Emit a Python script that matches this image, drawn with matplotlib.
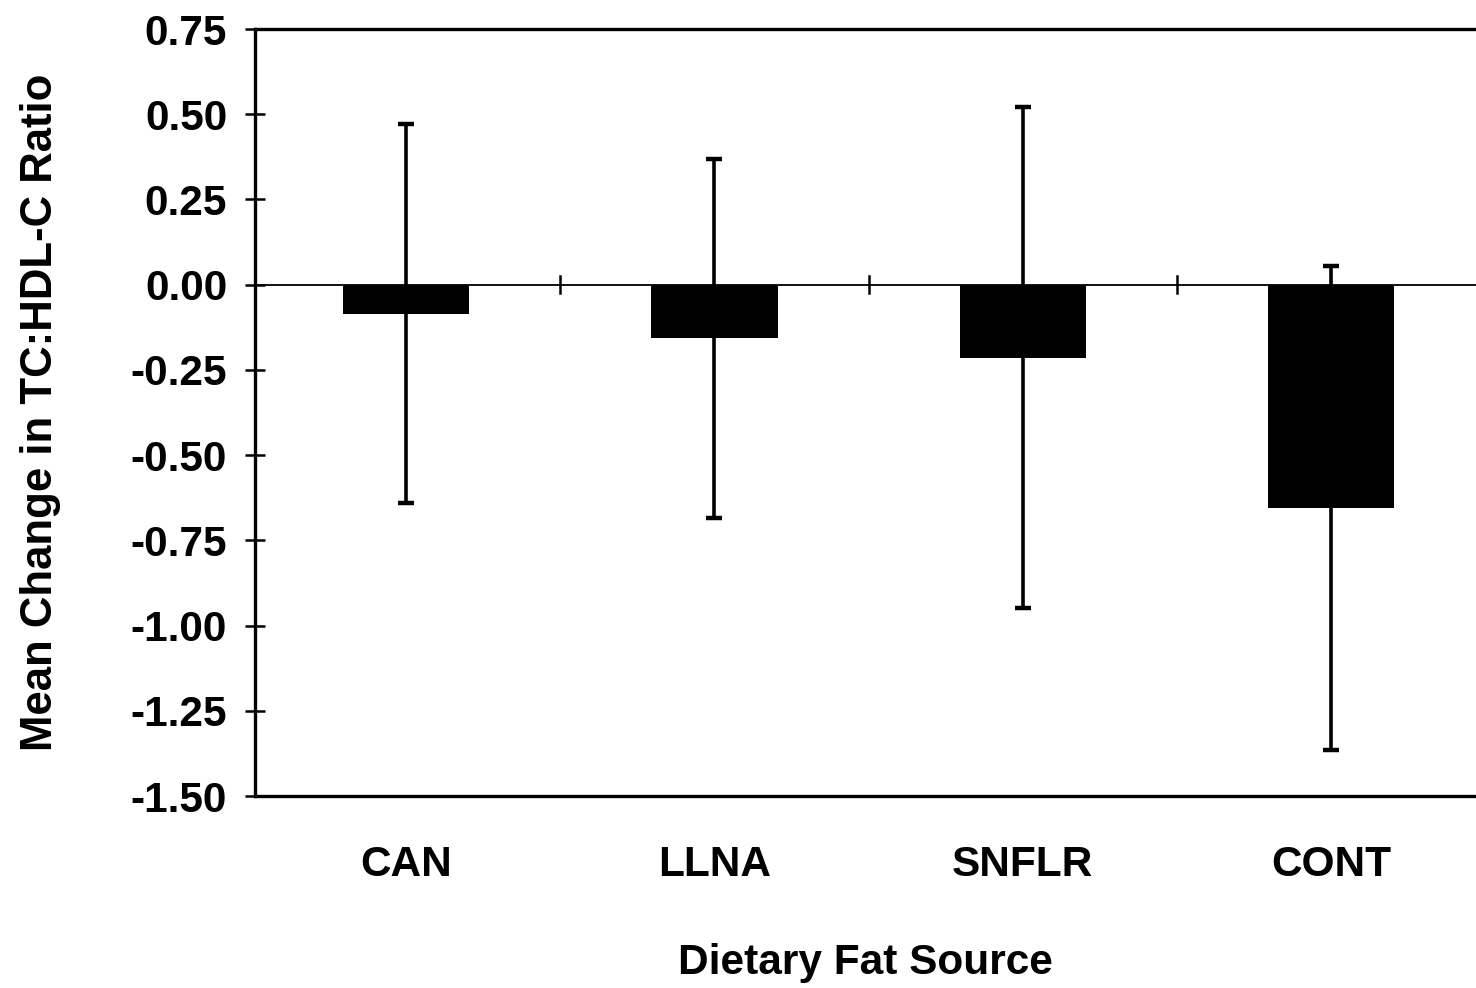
import matplotlib
matplotlib.use("Agg")
import matplotlib.pyplot as plt

categories = ["CAN", "LLNA", "SNFLR", "CONT"]
mean_change = [-0.085, -0.157, -0.214, -0.655]
sd_change = [0.555, 0.527, 0.735, 0.71]
y_ticks = [0.75, 0.50, 0.25, 0.00, -0.25, -0.50, -0.75, -1.00, -1.25, -1.50]

plt.rcParams['font.family'] = ['Liberation Sans', 'DejaVu Sans']
plt.rcParams['font.weight'] = 'bold'

fig = plt.figure(figsize=(14.76, 9.88), dpi=100)
ax = fig.add_axes([255/1476, 1-796/988, 1-255/1476, (796-29)/988])

x = list(range(len(categories)))
ax.bar(x, mean_change, width=0.41, color='black', zorder=3)
ax.errorbar(x, mean_change, yerr=sd_change, fmt='none', ecolor='black',
            elinewidth=2.6, capsize=5.5, capthick=3.2, zorder=4)

ax.axhline(0, color='black', lw=1.3, zorder=2)
for b in [0.5, 1.5, 2.5]:
    ax.plot([b, b], [-0.025, 0.025], color='black', lw=1.8, zorder=2)

ax.set_xlim(-0.49, 3.47)
ax.set_ylim(-1.5, 0.75)
ax.set_yticks(y_ticks)
ax.set_yticklabels([f"{v:.2f}" for v in y_ticks], fontsize=30.5, fontweight='bold')
ax.tick_params(axis='y', direction='inout', length=14, width=1.8, pad=13)
ax.set_xticks(x)
ax.set_xticklabels(categories, fontsize=30.5, fontweight='bold')
ax.tick_params(axis='x', length=0, pad=35)

for s in ['left', 'top', 'bottom']:
    ax.spines[s].set_linewidth(2.4)
ax.spines['right'].set_visible(False)

ax.set_xlabel("Dietary Fat Source", fontsize=30.5, fontweight='bold', labelpad=42)
ax.set_ylabel("Mean Change in TC:HDL-C Ratio", fontsize=31.5, fontweight='bold', labelpad=50)

fig.savefig("out.png", dpi=100)
